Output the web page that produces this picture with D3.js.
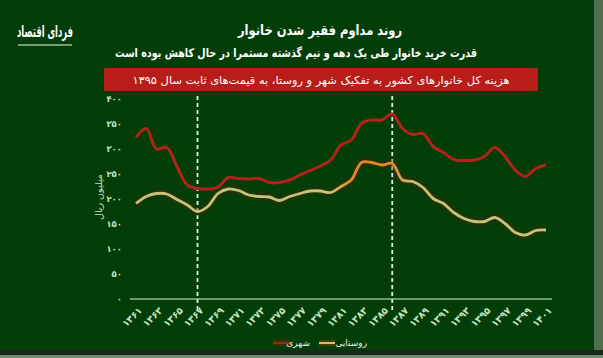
<!DOCTYPE html>
<html lang="fa">
<head>
    <meta charset="UTF-8">
    <title>روند مداوم فقیر شدن خانوار</title>
    <script src="https://cdn.jsdelivr.net/npm/d3@7"></script>
    <style>
        body { margin: 0; background: #033d08; }
        text { font-family: "DejaVu Sans", sans-serif; }
    </style>
</head>
<body>
<svg width="603" height="358" id="svgcontainer"></svg>
<script>
    // years 1361..1401 (solar hijri)
    const years = d3.range(1361, 1402);
    const urban = [323, 341, 300, 303, 265, 228, 221, 220, 224, 243, 241, 240, 241, 233, 233, 238, 248, 257, 266, 278,
        308, 318, 351, 358, 358, 370, 341, 329, 331, 305, 293, 279, 277, 278, 285, 303, 285, 258, 245, 261, 268];
    const rural = [191, 205, 211, 210, 199, 188, 175, 185, 211, 220, 217, 208, 205, 204, 197, 205, 211, 216, 216, 213,
        225, 238, 273, 273, 268, 271, 238, 235, 223, 201, 191, 173, 161, 155, 155, 163, 151, 133, 128, 137, 138];
    const yTicks = [0, 50, 100, 150, 200, 250, 300, 350, 400];
    const xTicks = d3.range(1361, 1402, 2);
    const markers = [1367, 1386];

    const fa = v => String(v).replace(/\d/g, d => '۰۱۲۳۴۵۶۷۸۹'[d]);

    const svg = d3.select('#svgcontainer');
    const width = +svg.attr('width');
    const height = +svg.attr('height');

    svg.append('rect').attr('width', width).attr('height', height).attr('fill', '#033d08');
    // frame edges
    svg.append('rect').attr('x', 594).attr('y', 0).attr('width', 9).attr('height', height).attr('fill', '#4f6d4f');
    svg.append('rect').attr('x', 0).attr('y', 350).attr('width', width).attr('height', 5).attr('fill', '#17281a');
    svg.append('rect').attr('x', 0).attr('y', 355).attr('width', width).attr('height', 3).attr('fill', '#6f8f70');

    const xScale = d3.scalePoint().domain(years).range([136, 546]);
    const yScale = d3.scaleLinear().domain([0, 400]).range([299, 99]);

    // header
    const fitText = (txt, cx, y, w, size, bold) => svg.append('text').text(txt)
        .attr('x', cx).attr('y', y).attr('text-anchor', 'middle').attr('fill', '#fff')
        .attr('font-size', size).attr('font-weight', bold ? 'bold' : 'normal')
        .attr('textLength', w).attr('lengthAdjust', 'spacingAndGlyphs');

    fitText('روند مداوم فقیر شدن خانوار', 320, 35, 164, 14, true);
    fitText('قدرت خرید خانوار طی یک دهه و نیم گذشته مستمرا در حال کاهش بوده است', 296, 57, 362, 12, true);
    svg.append('rect').attr('x', 104).attr('y', 68).attr('width', 434).attr('height', 23).attr('fill', '#b81d1a');
    fitText('هزینه کل خانوارهای کشور به تفکیک شهر و روستا، به قیمت‌های ثابت سال ۱۳۹۵', 321, 84, 377, 11, false);

    // logo
    fitText('فردای اقتصاد', 45, 37, 56, 16, true);
    svg.append('line').attr('x1', 18).attr('x2', 72).attr('y1', 45).attr('y2', 45)
        .attr('stroke', '#9fb79f').attr('stroke-width', 1.5);

    const g = svg.append('g');

    // y axis labels
    const yAxis = d3.axisLeft(yScale).tickValues(yTicks).tickSize(0).tickPadding(0).tickFormat(fa);
    const ya = g.append('g').attr('transform', 'translate(122,0)').call(yAxis);
    ya.select('.domain').remove();
    ya.selectAll('text').attr('fill', '#c5e3bd').attr('font-size', 8.5).attr('font-weight', 'bold');
    svg.append('text').text('میلیون ریال').attr('transform', 'translate(102,197) rotate(-90)')
        .attr('text-anchor', 'middle').attr('fill', '#c5e3bd').attr('font-size', 9.5);

    // x axis
    const xAxis = d3.axisBottom(xScale).tickValues(xTicks).tickSize(0).tickFormat(fa);
    const xa = g.append('g').attr('transform', 'translate(0,305)').call(xAxis);
    xa.select('.domain').remove();
    xa.selectAll('text').attr('text-anchor', 'end').attr('dy', '0.6em')
        .attr('transform', 'rotate(-45)').attr('fill', '#c5e3bd').attr('font-size', 9.5).attr('font-weight', 'bold');

    g.append('line').attr('x1', 130).attr('x2', 552).attr('y1', yScale(0)).attr('y2', yScale(0))
        .attr('stroke', '#6f9a66').attr('stroke-width', 2);

    // dashed markers
    g.selectAll('.marker').data(markers).join('line').attr('class', 'marker')
        .attr('x1', d => xScale(d)).attr('x2', d => xScale(d)).attr('y1', 96).attr('y2', 312)
        .attr('stroke', '#dff3dc').attr('stroke-width', 1.8).attr('stroke-dasharray', '4,3');

    const line = d3.line().x((d, i) => xScale(years[i])).y(d => yScale(d)).curve(d3.curveCatmullRom);

    // rural stroke gradient (orange around the peak)
    const grad = svg.append('defs').append('linearGradient').attr('id', 'ruralGrad')
        .attr('gradientUnits', 'userSpaceOnUse').attr('x1', 136).attr('x2', 546).attr('y1', 0).attr('y2', 0);
    const stop = (yr, c) => grad.append('stop').attr('offset', (xScale(yr) - 136) / 410).attr('stop-color', c);
    stop(1361, '#c9c07c'); stop(1380, '#c9c07c'); stop(1382, '#e8852c');
    stop(1386, '#e8852c'); stop(1388, '#c9c07c'); stop(1401, '#c9c07c');

    g.append('path').datum(rural).attr('d', line).attr('fill', 'none')
        .attr('stroke', 'rgba(70,45,0,0.35)').attr('stroke-width', 9);
    g.append('path').datum(rural).attr('d', line).attr('fill', 'none')
        .attr('stroke', 'url(#ruralGrad)').attr('stroke-width', 2.8);
    g.append('path').datum(urban).attr('d', line).attr('fill', 'none')
        .attr('stroke', '#b3231d').attr('stroke-width', 3);

    // legend
    const lg = svg.append('g');
    lg.append('rect').attr('x', 319).attr('y', 340).attr('width', 16).attr('height', 6).attr('fill', '#4a3a08');
    lg.append('rect').attr('x', 319).attr('y', 342).attr('width', 16).attr('height', 2).attr('fill', '#c9c07c');
    lg.append('text').text('روستایی').attr('x', 367).attr('y', 346).attr('text-anchor', 'end')
        .attr('fill', '#e8f3e4').attr('font-size', 9);
    lg.append('rect').attr('x', 273).attr('y', 340).attr('width', 16).attr('height', 6).attr('fill', '#4a2a06');
    lg.append('rect').attr('x', 273).attr('y', 342).attr('width', 16).attr('height', 2).attr('fill', '#7a3a12');
    lg.append('text').text('شهری').attr('x', 310).attr('y', 346).attr('text-anchor', 'end')
        .attr('fill', '#e8f3e4').attr('font-size', 9);
</script>
</body>
</html>
